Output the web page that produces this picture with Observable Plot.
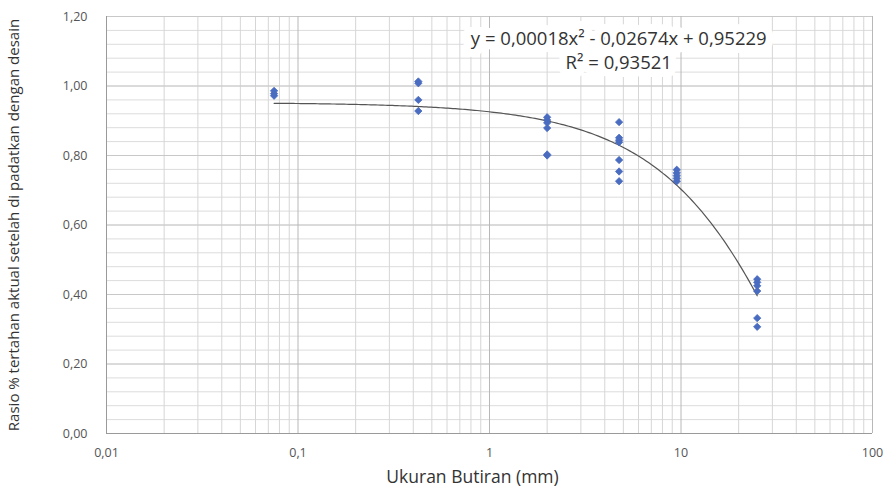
<!DOCTYPE html>
<html>
<head>
<meta charset="utf-8">
<script src="https://cdn.jsdelivr.net/npm/d3@7"></script>
<script src="https://cdn.jsdelivr.net/npm/@observablehq/plot@0.6"></script>
<style>
  body { margin: 0; background: #fff; }
  #chart { width: 885px; height: 490px; }
</style>
</head>
<body>
<div id="chart"></div>
<script>
// Sieve sizes (mm) and measured ratios
const sizes = [0.075, 0.425, 2.0, 4.75, 9.5, 25.0];
const ratios075 = [0.986, 0.978, 0.972];
const ratios425 = [1.013, 1.008, 0.960, 0.928];
const ratios2 = [0.910, 0.902, 0.894, 0.879, 0.803, 0.800];
const ratios475 = [0.896, 0.851, 0.844, 0.838, 0.787, 0.754, 0.726];
const ratios95 = [0.759, 0.750, 0.742, 0.734, 0.726];
const ratios25 = [0.444, 0.435, 0.425, 0.410, 0.332, 0.307];

// Trendline coefficients (from the chart's equation label)
const coefA = 0.00018, coefB = -0.02674, coefC = 0.95229;
const equationText = "y = 0,00018x² - 0,02674x + 0,95229";
const r2Text = "R² = 0,93521";

// Axis ticks
const xTicks = [0.01, 0.1, 1, 10, 100];
const xTickLabels = ["0,01", "0,1", "1", "10", "100"];
const yTicks = [0, 0.2, 0.4, 0.6, 0.8, 1.0, 1.2];
const yTickLabels = ["0,00", "0,20", "0,40", "0,60", "0,80", "1,00", "1,20"];

const xTitle = "Ukuran Butiran (mm)";
const yTitle = "Rasio % tertahan aktual setelah di padatkan dengan desain";

const groups = [ratios075, ratios425, ratios2, ratios475, ratios95, ratios25];
const points = groups.flatMap((g, i) => g.map(v => ({x: sizes[i], y: v})));

// minor gridlines
const xMinor = [];
for (const d of [0.01, 0.1, 1, 10]) for (let k = 2; k <= 9; k++) xMinor.push(+(d * k).toPrecision(3));
const yMinor = d3.range(0, 1.2001, 0.04).map(v => +v.toFixed(2));

// trendline samples along the fitted equation
const xStart = sizes[0], xEnd = sizes[sizes.length - 1];
const trend = d3.range(0, 201).map(i => {
  const x = Math.exp(Math.log(xStart) + (Math.log(xEnd) - Math.log(xStart)) * i / 200);
  return {x, y: coefA * x * x + coefB * x + coefC};
});

const font = "'Open Sans', 'Liberation Sans', sans-serif";
const xLabelMap = new Map(xTicks.map((t, i) => [t, xTickLabels[i]]));
const yLabelMap = new Map(yTicks.map((t, i) => [t, yTickLabels[i]]));

const eqRows = [
  {x: 4.73, y: 1.134, t: equationText},
  {x: 4.73, y: 1.066, t: r2Text}
];

const chart = Plot.plot({
  width: 885,
  height: 490,
  marginLeft: 106,
  marginRight: 13,
  marginTop: 16,
  marginBottom: 57,
  style: {fontFamily: font, background: "#fff", overflow: "visible"},
  x: {type: "log", domain: [0.01, 100], axis: null},
  y: {domain: [0, 1.2], axis: null},
  marks: [
    Plot.ruleY(yMinor, {stroke: "#dcdcdc", strokeWidth: 1}),
    Plot.ruleX(xMinor, {stroke: "#d6d6d6", strokeWidth: 1}),
    Plot.ruleY(yTicks, {stroke: "#c8c8c8", strokeWidth: 1}),
    Plot.ruleX(xTicks, {stroke: "#b8b8b8", strokeWidth: 1}),
    Plot.ruleX([0.01], {stroke: "#9a9a9a"}),
    Plot.ruleY([0], {stroke: "#9a9a9a"}),
    Plot.text(xTicks, {x: d => d, frameAnchor: "bottom", dy: 23, text: d => xLabelMap.get(d),
      fontSize: 12.5, fill: "#555", textAnchor: "middle"}),
    Plot.text(yTicks, {y: d => d, frameAnchor: "left", dx: -19, text: d => yLabelMap.get(d),
      fontSize: 12.5, fill: "#555", textAnchor: "end"}),
    Plot.line(trend, {x: "x", y: "y", stroke: "#555", strokeWidth: 1.2}),
    Plot.dot(points, {x: "x", y: "y", symbol: "diamond2", r: 3.3, fill: "#4a6cc0", stroke: "#4a6cc0", strokeWidth: 0.8}),
    Plot.text(eqRows, {
      x: "x", y: "y", text: "t",
      fontSize: 18.5, fill: "#333", stroke: "white", strokeWidth: 16, strokeLinejoin: "round",
      textAnchor: "middle", fontFamily: font
    }),
    Plot.text([xTitle], {frameAnchor: "bottom", dx: -17, dy: 49, text: d => d, fontSize: 17.5, fill: "#333", textAnchor: "middle"}),
    Plot.text([yTitle], {frameAnchor: "left", dx: -92, dy: 0, rotate: -90, text: d => d, fontSize: 15, fill: "#333", textAnchor: "middle"})
  ]
});
document.getElementById("chart").appendChild(chart);
</script>
</body>
</html>
